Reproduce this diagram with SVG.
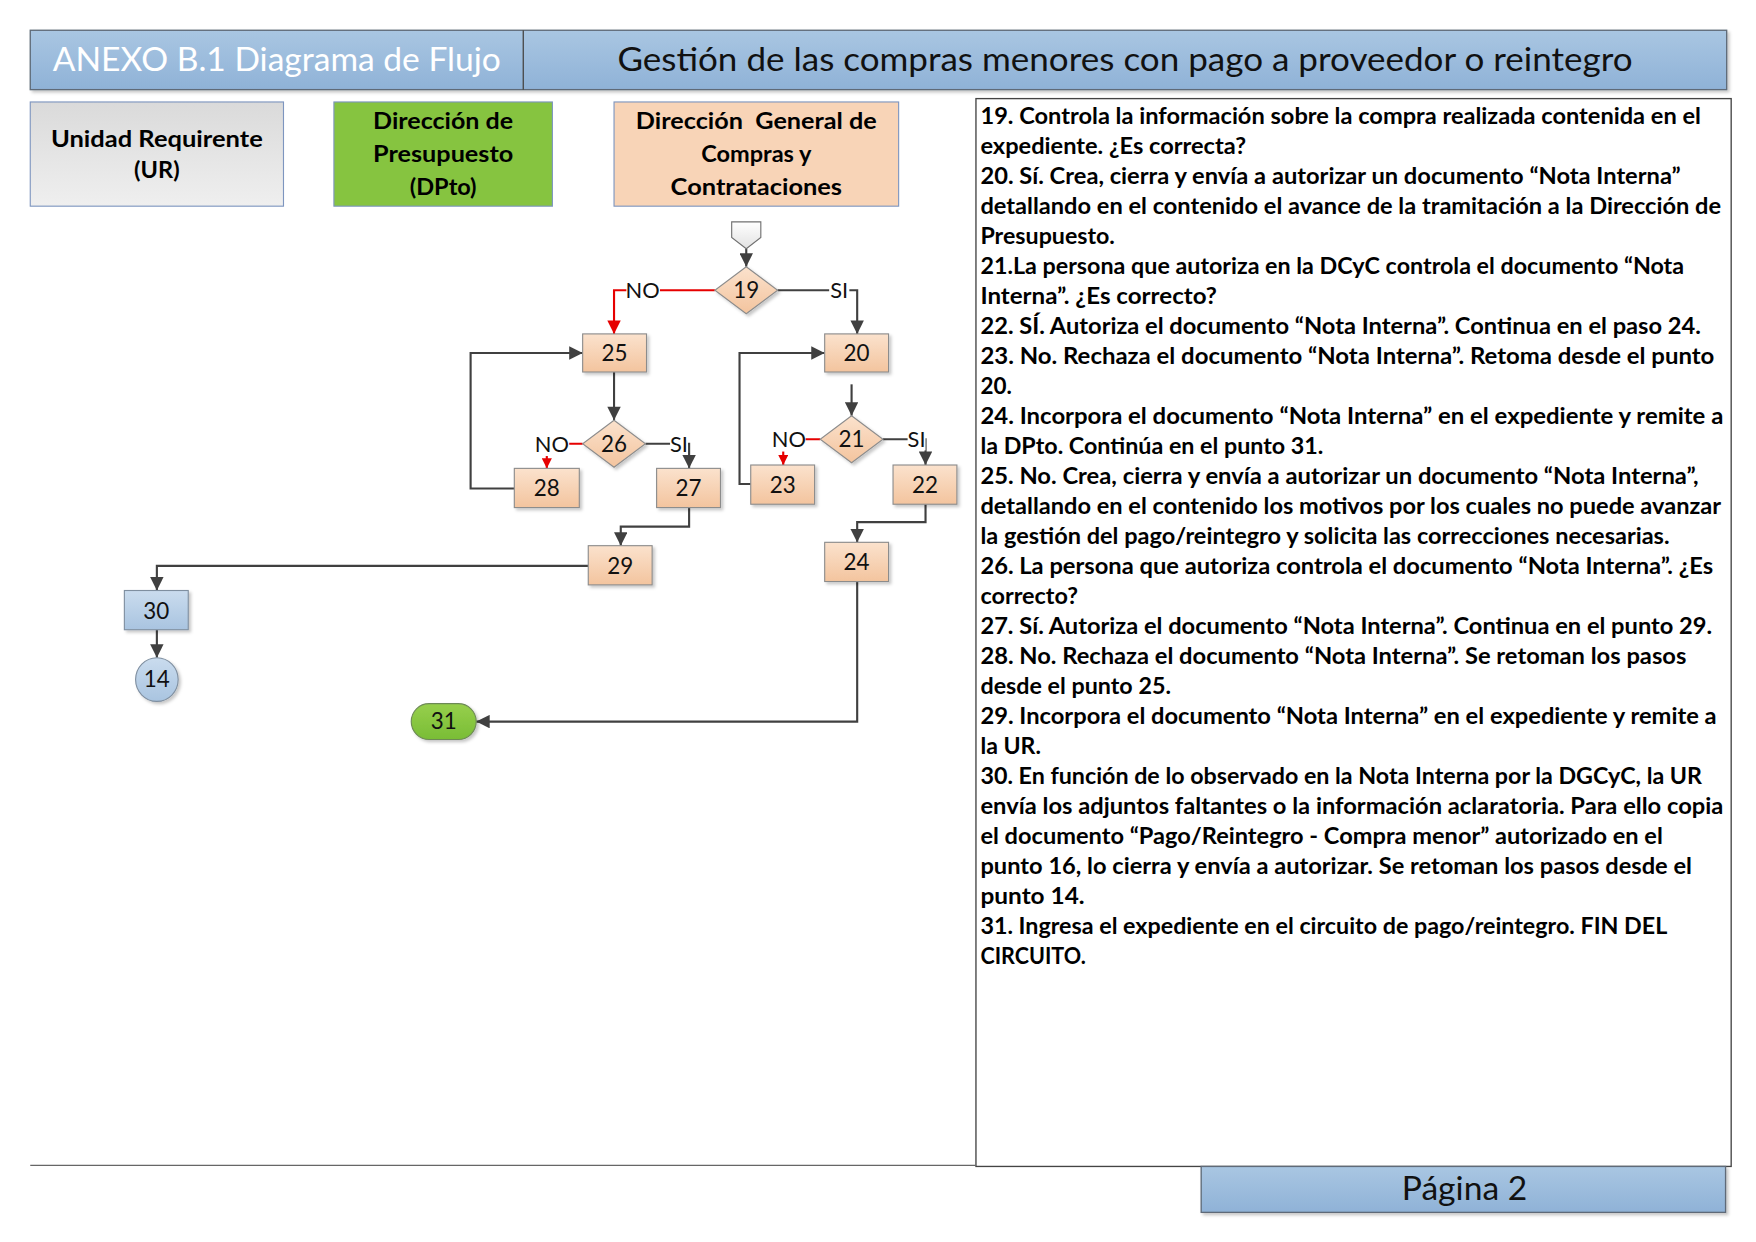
<svg xmlns="http://www.w3.org/2000/svg" width="1756" height="1242" viewBox="0 0 1756 1242">
<style>
.t{font-family:Lato,"Open Sans","Liberation Sans",sans-serif;}
.hdr{font-size:30px;}
.lane{font-size:21px;font-weight:bold;fill:#000;text-anchor:middle;}
.num{font-size:20px;fill:#111;text-anchor:middle;}
.lbl{font-size:19.5px;fill:#111;text-anchor:middle;}
.para{font-size:19.5px;font-weight:bold;fill:#000;}
.box{fill:url(#peach);stroke:#8c8c8c;stroke-width:1;filter:url(#sh);}
.dia{fill:url(#peach);stroke:#8c8c8c;stroke-width:1;filter:url(#sh);}
.cg{fill:none;stroke:#404040;stroke-width:1.9;}
.cr{fill:none;stroke:#e60000;stroke-width:1.9;}
.bg{fill:#fff;}
</style>
<defs>
<linearGradient id="hdrG" x1="0" y1="0" x2="0" y2="1"><stop offset="0" stop-color="#a9c6e2"/><stop offset="1" stop-color="#8fb2d7"/></linearGradient>
<linearGradient id="urG" x1="0" y1="0" x2="0" y2="1"><stop offset="0" stop-color="#dadada"/><stop offset="1" stop-color="#efefef"/></linearGradient>
<linearGradient id="peach" x1="0" y1="0" x2="0" y2="1"><stop offset="0" stop-color="#fbe2cd"/><stop offset="1" stop-color="#f3c49e"/></linearGradient>
<linearGradient id="blueN" x1="0" y1="0" x2="0" y2="1"><stop offset="0" stop-color="#cadcee"/><stop offset="1" stop-color="#a9c4e0"/></linearGradient>
<linearGradient id="greenN" x1="0" y1="0" x2="0" y2="1"><stop offset="0" stop-color="#97cf4c"/><stop offset="1" stop-color="#79bd35"/></linearGradient>
<linearGradient id="offG" x1="0" y1="0" x2="0" y2="1"><stop offset="0" stop-color="#ffffff"/><stop offset="1" stop-color="#e2e2e2"/></linearGradient>
<filter id="sh" x="-20%" y="-20%" width="150%" height="150%"><feDropShadow dx="2" dy="2" stdDeviation="1.2" flood-color="#000" flood-opacity="0.22"/></filter>
<marker id="ag" viewBox="0 0 10 10" refX="10" refY="5" markerWidth="13" markerHeight="12" markerUnits="userSpaceOnUse" orient="auto"><path d="M0,0 L10,5 L0,10 z" fill="#404040"/></marker>
<marker id="ar" viewBox="0 0 10 10" refX="10" refY="5" markerWidth="13" markerHeight="12" markerUnits="userSpaceOnUse" orient="auto"><path d="M0,0 L10,5 L0,10 z" fill="#e60000"/></marker>
<marker id="arS" viewBox="0 0 10 10" refX="10" refY="5" markerWidth="9" markerHeight="9" markerUnits="userSpaceOnUse" orient="auto"><path d="M0,0 L10,5 L0,10 z" fill="#e60000"/></marker>
</defs>
<rect x="0" y="0" width="1756" height="1242" fill="#fff"/>
<g transform="scale(1.1205)">
<g id="header">
<rect x="27" y="27" width="1514" height="53" fill="url(#hdrG)" stroke="#5f6b78" stroke-width="1.2" filter="url(#sh)"/>
<line x1="467" y1="27" x2="467" y2="80" stroke="#4a4a4a" stroke-width="1.2"/>
<text class="t hdr" x="247" y="63.5" fill="#fff" text-anchor="middle" textLength="400" lengthAdjust="spacingAndGlyphs">ANEXO B.1 Diagrama de Flujo</text>
<text class="t hdr" x="1004" y="63.5" fill="#111" text-anchor="middle" textLength="906" lengthAdjust="spacingAndGlyphs">Gestión de las compras menores con pago a proveedor o reintegro</text>
</g>
<g id="lane-ur">
<rect x="27" y="91" width="226" height="93" fill="url(#urG)" stroke="#7d95bf" stroke-width="1"/>
<text class="t lane" x="140" y="131" textLength="189" lengthAdjust="spacingAndGlyphs">Unidad Requirente</text>
<text class="t lane" x="140" y="159">(UR)</text>
</g>
<g id="lane-dpto">
<rect x="298" y="91" width="195" height="93" fill="#86c440" stroke="#7d95bf" stroke-width="1"/>
<text class="t lane" x="395.5" y="115" textLength="125" lengthAdjust="spacingAndGlyphs">Dirección de</text>
<text class="t lane" x="395.5" y="145" textLength="125" lengthAdjust="spacingAndGlyphs">Presupuesto</text>
<text class="t lane" x="395.5" y="174">(DPto)</text>
</g>
<g id="lane-dgcyc">
<rect x="548" y="91" width="254" height="93" fill="#f8d4b7" stroke="#7d95bf" stroke-width="1"/>
<text class="t lane" x="675" y="115" textLength="215" lengthAdjust="spacingAndGlyphs" xml:space="preserve">Dirección  General de</text>
<text class="t lane" x="675" y="145">Compras y</text>
<text class="t lane" x="675" y="174" textLength="153" lengthAdjust="spacingAndGlyphs">Contrataciones</text>
</g>
<g id="connectors">
<path class="cg" d="M666,222 L666,238" marker-end="url(#ag)"/>
<path class="cr" d="M638,259 L548,259 L548,298" marker-end="url(#ar)"/>
<path class="cg" d="M694,259 L765,259 L765,298" marker-end="url(#ag)"/>
<path class="cg" d="M548,332 L548,375" marker-end="url(#ag)"/>
<path class="cr" d="M520,396 L488,396 L488,418" marker-end="url(#arS)"/>
<path class="cg" d="M576,396 L615,396 L615,418" marker-end="url(#ag)"/>
<path class="cg" d="M459,436 L420,436 L420,315 L520,315" marker-end="url(#ag)"/>
<path class="cg" d="M615,453 L615,470 L554,470 L554,487" marker-end="url(#ag)"/>
<path class="cg" d="M525,505 L140,505 L140,527" marker-end="url(#ag)"/>
<path class="cg" d="M140,562 L140,587" marker-end="url(#ag)"/>
<path class="cg" d="M760,343 L760,371" marker-end="url(#ag)"/>
<path class="cr" d="M732,392 L699,392 L699,415" marker-end="url(#arS)"/>
<path class="cg" d="M788,392 L826,392 L826,415" marker-end="url(#ag)"/>
<path class="cg" d="M670,432 L660,432 L660,315 L736,315" marker-end="url(#ag)"/>
<path class="cg" d="M826,450 L826,466 L765,466 L765,484" marker-end="url(#ag)"/>
<path class="cg" d="M765,519 L765,644 L425,644" marker-end="url(#ag)"/>
<rect class="bg" x="559" y="249" width="30" height="20"/>
<text class="t lbl" x="573.5" y="266">NO</text>
<rect class="bg" x="740" y="249" width="18" height="20"/>
<text class="t lbl" x="749" y="266">SI</text>
<rect class="bg" x="477" y="385" width="31" height="22"/>
<text class="t lbl" x="492.5" y="403">NO</text>
<rect class="bg" x="598" y="386" width="16" height="20"/>
<text class="t lbl" x="606" y="403">SI</text>
<rect class="bg" x="689" y="381" width="30" height="22"/>
<text class="t lbl" x="704" y="399">NO</text>
<rect class="bg" x="810" y="382" width="16" height="20"/>
<text class="t lbl" x="818" y="399">SI</text>
</g>
<g id="n-off"><polygon points="653,198 679,198 679,212 666,222 653,212" fill="url(#offG)" stroke="#707070" stroke-width="1"/></g>
<g id="n19"><polygon class="dia" points="666,238 694,259 666,280 638,259"/><text class="t num" x="666" y="266">19</text></g>
<g id="n25"><rect class="box" x="520" y="298" width="57" height="34"/><text class="t num" x="548.5" y="322">25</text></g>
<g id="n20"><rect class="box" x="736" y="298" width="57" height="34"/><text class="t num" x="764.5" y="322">20</text></g>
<g id="n26"><polygon class="dia" points="548,375 576,396 548,417 520,396"/><text class="t num" x="548" y="403">26</text></g>
<g id="n21"><polygon class="dia" points="760,371 788,392 760,413 732,392"/><text class="t num" x="760" y="399">21</text></g>
<g id="n28"><rect class="box" x="459" y="418" width="58" height="35"/><text class="t num" x="488" y="443">28</text></g>
<g id="n27"><rect class="box" x="586" y="418" width="57" height="35"/><text class="t num" x="614.5" y="443">27</text></g>
<g id="n23"><rect class="box" x="670" y="415" width="57" height="35"/><text class="t num" x="698.5" y="440">23</text></g>
<g id="n22"><rect class="box" x="797" y="415" width="57" height="35"/><text class="t num" x="825.5" y="440">22</text></g>
<g id="n29"><rect class="box" x="525" y="487" width="57" height="35"/><text class="t num" x="553.5" y="512">29</text></g>
<g id="n24"><rect class="box" x="736" y="484" width="57" height="35"/><text class="t num" x="764.5" y="509">24</text></g>
<g id="n30"><rect x="111" y="527" width="57" height="35" fill="url(#blueN)" stroke="#7f8fa0" stroke-width="1" filter="url(#sh)"/><text class="t num" x="139.5" y="552">30</text></g>
<g id="n14"><ellipse cx="140" cy="606.5" rx="19" ry="19.5" fill="url(#blueN)" stroke="#7f8fa0" stroke-width="1" filter="url(#sh)"/><text class="t num" x="140" y="613.5">14</text></g>
<g id="n31"><rect x="367" y="628" width="58" height="32" rx="16" ry="16" fill="url(#greenN)" stroke="#6d8a55" stroke-width="1" filter="url(#sh)"/><text class="t num" x="396" y="651">31</text></g>
<g id="panel">
<rect x="871" y="88" width="674" height="953" fill="#fff" stroke="#444" stroke-width="1.2"/>
<g class="t para" xml:space="preserve">
<text x="875" y="111" textLength="643" lengthAdjust="spacingAndGlyphs">19. Controla la información sobre la compra realizada contenida en el</text>
<text x="875" y="137.75" textLength="237" lengthAdjust="spacingAndGlyphs">expediente. ¿Es correcta?</text>
<text x="875" y="164.5" textLength="625" lengthAdjust="spacingAndGlyphs">20. Sí. Crea, cierra y envía a autorizar un documento “Nota Interna”</text>
<text x="875" y="191.25" textLength="661" lengthAdjust="spacingAndGlyphs">detallando en el contenido el avance de la tramitación a la Dirección de</text>
<text x="875" y="218" textLength="120" lengthAdjust="spacingAndGlyphs">Presupuesto.</text>
<text x="875" y="244.75" textLength="628" lengthAdjust="spacingAndGlyphs">21.La persona que autoriza en la DCyC controla el documento “Nota</text>
<text x="875" y="271.5" textLength="211" lengthAdjust="spacingAndGlyphs">Interna”. ¿Es correcto?</text>
<text x="875" y="298.25" textLength="643" lengthAdjust="spacingAndGlyphs">22. SÍ. Autoriza el documento “Nota Interna”. Continua en el paso 24.</text>
<text x="875" y="325" textLength="655" lengthAdjust="spacingAndGlyphs">23. No. Rechaza el documento “Nota Interna”.  Retoma desde el punto</text>
<text x="875" y="351.75" textLength="28" lengthAdjust="spacingAndGlyphs">20.</text>
<text x="875" y="378.5" textLength="663" lengthAdjust="spacingAndGlyphs">24. Incorpora el documento  “Nota Interna” en el expediente y remite a</text>
<text x="875" y="405.25" textLength="306" lengthAdjust="spacingAndGlyphs">la DPto. Continúa en el punto 31.</text>
<text x="875" y="432" textLength="641" lengthAdjust="spacingAndGlyphs">25. No. Crea, cierra y envía a autorizar un documento “Nota Interna”,</text>
<text x="875" y="458.75" textLength="661" lengthAdjust="spacingAndGlyphs">detallando en el contenido los motivos por los cuales no puede avanzar</text>
<text x="875" y="485.5" textLength="615" lengthAdjust="spacingAndGlyphs">la gestión del pago/reintegro y solicita las correcciones necesarias.</text>
<text x="875" y="512.25" textLength="654" lengthAdjust="spacingAndGlyphs">26. La persona que autoriza controla el documento “Nota Interna”. ¿Es</text>
<text x="875" y="539" textLength="87" lengthAdjust="spacingAndGlyphs">correcto?</text>
<text x="875" y="565.75" textLength="653" lengthAdjust="spacingAndGlyphs">27. Sí. Autoriza el documento “Nota Interna”. Continua en el punto 29.</text>
<text x="875" y="592.5" textLength="630" lengthAdjust="spacingAndGlyphs">28. No. Rechaza el documento “Nota Interna”. Se retoman los pasos</text>
<text x="875" y="619.25" textLength="170" lengthAdjust="spacingAndGlyphs">desde el punto 25.</text>
<text x="875" y="646" textLength="657" lengthAdjust="spacingAndGlyphs">29. Incorpora el documento “Nota Interna” en el expediente y remite a</text>
<text x="875" y="672.75" textLength="54" lengthAdjust="spacingAndGlyphs">la UR.</text>
<text x="875" y="699.5" textLength="644" lengthAdjust="spacingAndGlyphs">30. En función de lo observado en la Nota Interna por la DGCyC, la UR</text>
<text x="875" y="726.25" textLength="663" lengthAdjust="spacingAndGlyphs">envía los adjuntos faltantes o la información aclaratoria. Para ello copia</text>
<text x="875" y="753" textLength="609" lengthAdjust="spacingAndGlyphs">el documento “Pago/Reintegro - Compra menor” autorizado en el</text>
<text x="875" y="779.75" textLength="635" lengthAdjust="spacingAndGlyphs">punto 16, lo cierra y envía a autorizar. Se retoman los pasos desde el</text>
<text x="875" y="806.5" textLength="93" lengthAdjust="spacingAndGlyphs">punto  14.</text>
<text x="875" y="833.25" textLength="613" lengthAdjust="spacingAndGlyphs">31. Ingresa el expediente en el circuito de pago/reintegro. FIN DEL</text>
<text x="875" y="860" textLength="94" lengthAdjust="spacingAndGlyphs">CIRCUITO.</text>
</g>
</g>
<g id="footer">
<line x1="27" y1="1040" x2="871" y2="1040" stroke="#666" stroke-width="1.2"/>
<rect x="1072" y="1041" width="468" height="41" fill="url(#hdrG)" stroke="#5f6b78" stroke-width="1.2" filter="url(#sh)"/>
<text class="t hdr" x="1307" y="1071" fill="#111" text-anchor="middle">Página 2</text>
</g>
</g>
</svg>
